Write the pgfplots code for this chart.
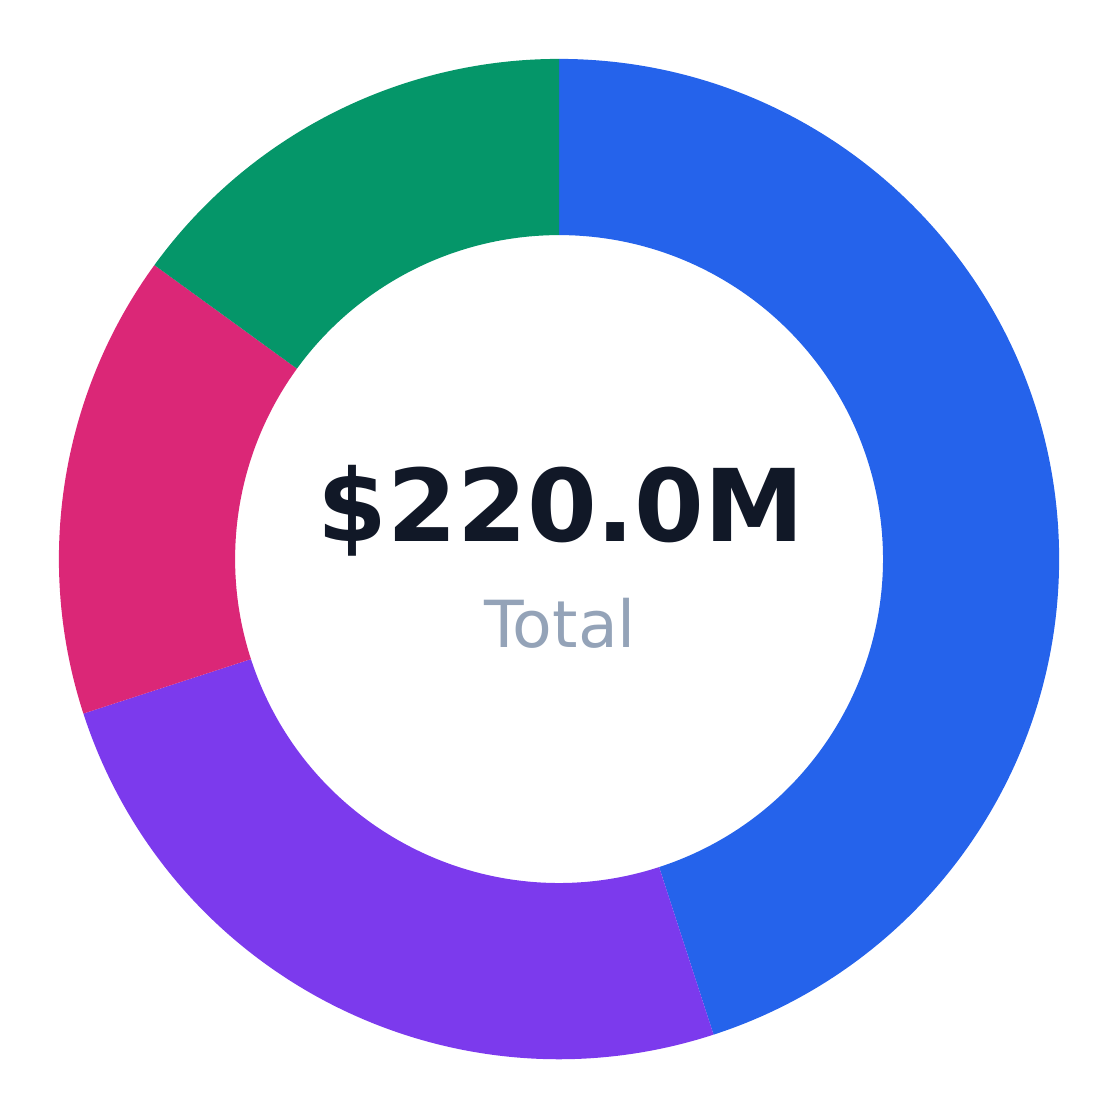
\documentclass[border=0pt]{standalone}
\usepackage{pgfplots}
\usepackage{pgfplotstable}
\pgfplotsset{compat=1.18}
\usepackage{fontspec}
\setmainfont{DejaVu Sans}

\definecolor{cblue}{HTML}{2563EB}
\definecolor{cpurple}{HTML}{7C3AED}
\definecolor{cpink}{HTML}{DB2777}
\definecolor{cgreen}{HTML}{059669}
\definecolor{ctext}{HTML}{111827}
\definecolor{csub}{HTML}{94A3B8}

% slice values ($M), clockwise from 12 o'clock
\pgfplotstableread{
label value
A 99
B 55
C 33
D 33
}\slices

\def\Ro{5.01cm}
\def\ri{0.6477}
\def\Ri{3.245cm}
\newcommand\slice[3]{%
  \fill[#3] (axis cs:{cos(#1)},{sin(#1)}) arc[start angle=#1, end angle=#2, radius=\Ro]
    -- (axis cs:{\ri*cos(#2)},{\ri*sin(#2)}) arc[start angle=#2, end angle=#1, radius=\Ri] -- cycle;}

\begin{document}
\begin{tikzpicture}
\pgfplotstablegetelem{0}{value}\of\slices \let\va\pgfplotsretval
\pgfplotstablegetelem{1}{value}\of\slices \let\vb\pgfplotsretval
\pgfplotstablegetelem{2}{value}\of\slices \let\vc\pgfplotsretval
\pgfplotstablegetelem{3}{value}\of\slices \let\vd\pgfplotsretval
\pgfmathsetmacro\total{\va+\vb+\vc+\vd}
\pgfmathsetmacro\aA{90}
\pgfmathsetmacro\aB{\aA-360*(\va/\total)}
\pgfmathsetmacro\aC{\aB-360*(\vb/\total)}
\pgfmathsetmacro\aD{\aC-360*(\vc/\total)}
\pgfmathsetmacro\aE{-270}
\begin{axis}[
    x=5.01cm, y=5.01cm,
    xmin=-1.1178, xmax=1.1178,
    ymin=-1.1178, ymax=1.1178,
    hide axis,
    clip=false
]
\path (axis cs:-1.1178,-1.1178) rectangle (axis cs:1.1178,1.1178);
\slice{\aA}{\aB}{cblue}
\slice{\aB}{\aC}{cpurple}
\slice{\aC}{\aD}{cpink}
\slice{\aD}{\aE}{cgreen}
\node[anchor=base, text=ctext, font=\fontsize{28.6}{30}\selectfont\bfseries, inner sep=0pt]
    at (axis cs:0.004,0.0355) {\$220.0M};
\node[anchor=base, text=csub, font=\fontsize{18.5}{20}\selectfont, inner sep=0pt]
    at (axis cs:0.002,-0.1776) {Total};
\end{axis}
\end{tikzpicture}
\end{document}
